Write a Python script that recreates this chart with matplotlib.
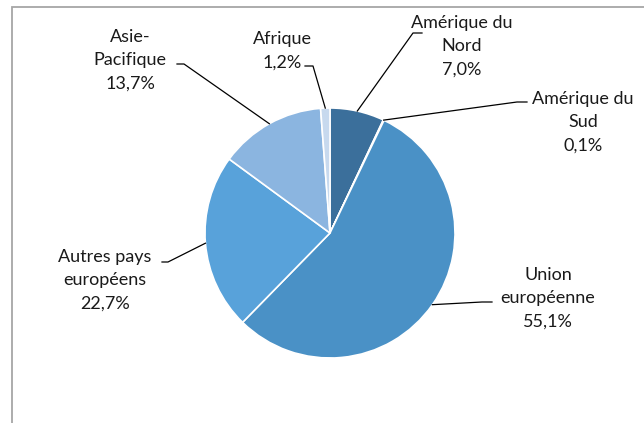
import numpy as np
import matplotlib.pyplot as plt
from matplotlib.patches import Rectangle

# data (clockwise from 12 o'clock)
labels = ['Amérique du\nNord', 'Amérique du\nSud', 'Union\neuropéenne',
          'Autres pays\neuropéens', 'Asie-\nPacifique', 'Afrique']
values = [7.0, 0.1, 55.1, 22.7, 13.7, 1.2]
colors = ['#3B6F9B', '#4F8EC3', '#4A91C6', '#58A2DA', '#8BB5E0', '#C7D9EE']

# label text centres and elbow of the leader line (pixel coords, y down)
text_pos = [(462, 46), (583, 122), (548, 298), (105, 280), (130, 60), (282, 51)]
elbows = [[(422, 33), (413, 33)], [(527, 102), (517, 102)], [(492, 302), (482, 302)],
          [(162, 262), (168, 262)], [(177, 64), (184, 64)], [(305, 66), (313, 66)]]

W, H = 644, 423
plt.rcParams['font.family'] = ['Lato', 'DejaVu Sans']

fig = plt.figure(figsize=(W / 100, H / 100), dpi=100)
ax = fig.add_axes([0, 0, 1, 1])

# chart frame (left and top edges visible)
ax.add_patch(Rectangle((12, -20), 700, H - 7 + 20, fill=False,
                       edgecolor='#A6A6A6', lw=1.3, clip_on=False))

cx, cy, r = 330, H - 233, 125
wedges, _ = ax.pie(values, colors=colors, startangle=90, counterclock=False,
                   center=(cx, cy), radius=r, frame=True,
                   wedgeprops=dict(edgecolor='white', linewidth=1.2))
ax.set_xlim(0, W)
ax.set_ylim(0, H)
ax.set_aspect('equal')
ax.axis('off')

for w, lab, val, (tx, ty), elb in zip(wedges, labels, values, text_pos, elbows):
    mid = np.deg2rad((w.theta1 + w.theta2) / 2)
    px, py = cx + r * np.cos(mid), cy + r * np.sin(mid)
    xs = [e[0] for e in elb] + [px]
    ys = [H - e[1] for e in elb] + [py]
    ax.plot(xs, ys, color='black', lw=0.9)
    txt = lab + '\n' + f'{val:.1f}%'.replace('.', ',')
    ax.text(tx, H - ty, txt, ha='center', va='center', fontsize=13,
            linespacing=1.55, color='#1a1a1a')

fig.savefig('out.png', dpi=100)
